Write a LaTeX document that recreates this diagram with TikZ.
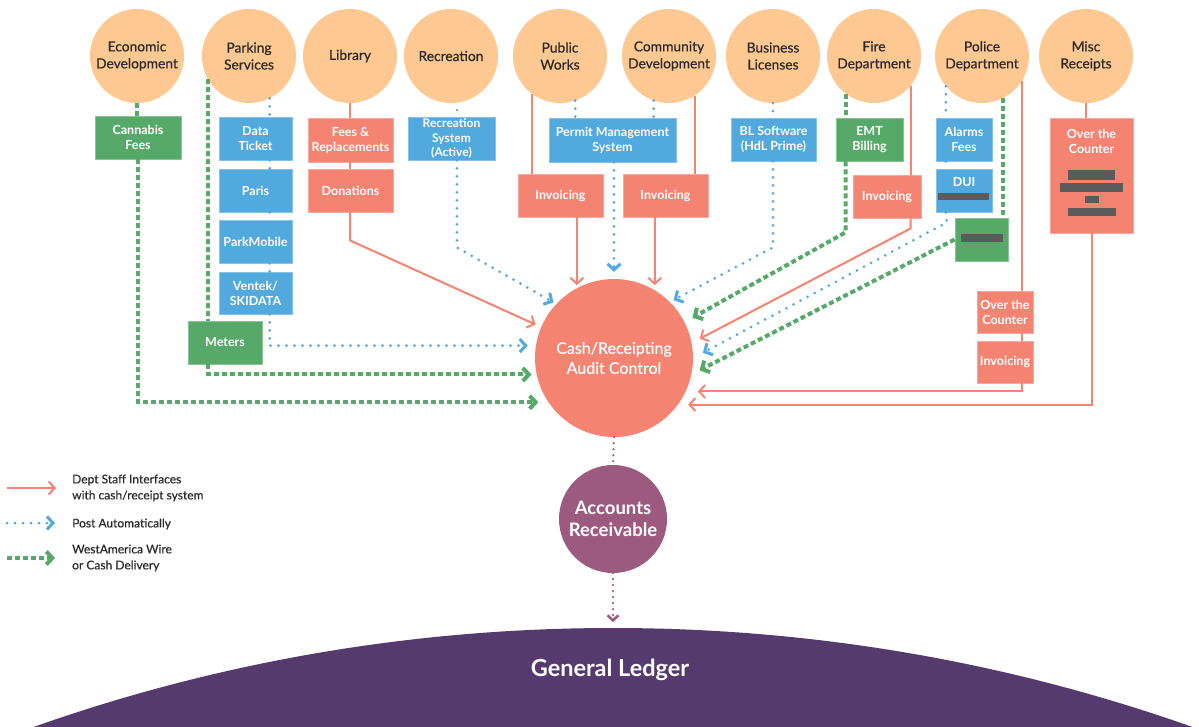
\documentclass[tikz,border=0pt]{standalone}
\usepackage{fontspec}
\setmainfont{Lato}
\newfontfamily\semib{Lato}[FakeBold=0.5]
\usetikzlibrary{arrows.meta,calc}
\definecolor{peach}{HTML}{FDC892}
\definecolor{salmon}{HTML}{F48372}
\definecolor{sky}{HTML}{52A9DE}
\definecolor{leaf}{HTML}{56A968}
\definecolor{mauve}{HTML}{9C5A7E}
\definecolor{plum}{HTML}{553A6E}
\definecolor{redact}{HTML}{5B5B5B}
\definecolor{ink}{HTML}{2A2A2A}

\begin{document}
\begin{tikzpicture}[x=1pt,y=-1pt,
  dept/.style={circle, fill=peach, minimum size=94pt, inner sep=0pt, align=center,
    text=ink, font=\semib\fontsize{13.8}{17}\selectfont},
  box/.style={rectangle, inner sep=0pt, align=center, text=white,
    font=\bfseries\fontsize{12.5}{15}\selectfont, fill=#1, draw=#1!70!white, line width=0.8pt},
  boxtext/.style={inner sep=0pt, align=center, text=white,
    font=\bfseries\fontsize{12.5}{15}\selectfont},
  staffline/.style={draw=salmon, line width=2pt},
  postline/.style={draw=sky, line width=3pt, line cap=round, dash pattern=on 0pt off 8pt},
  wireline/.style={draw=leaf, line width=4pt, dash pattern=on 5pt off 3pt},
  mauveline/.style={draw=mauve, line width=2.5pt, line cap=round, dash pattern=on 0pt off 6pt},
  chev/.style={-{Straight Barb[length=6pt,width=13pt]}},
  smallchev/.style={-{Straight Barb[length=5pt,width=11pt]}},
  legendtext/.style={anchor=west, align=left, inner sep=0pt, text=ink,
    font=\semib\fontsize{12}{16}\selectfont}
]
\useasboundingbox (0,0) rectangle (1199,727);

% General Ledger dome
\begin{scope}
  \clip (0,0) rectangle (1199,727);
  \fill[plum] (613,2365) circle (1737pt);
\end{scope}
\node[text=white, font=\bfseries\fontsize{23.5}{26}\selectfont] (gl) at (610,670) {General Ledger};
\coordinate (gltop) at (613,628);

% departments
\node[dept] (ed)   at (137,56)  {Economic\\Development};
\node[dept] (pk)   at (249,56)  {Parking\\Services};
\node[dept] (lib)  at (350,56)  {Library};
\node[dept] (rec)  at (451,56)  {Recreation};
\node[dept] (pw)   at (560,56)  {Public\\Works};
\node[dept] (cd)   at (669,56)  {Community\\Development};
\node[dept] (bus)  at (773,56)  {Business\\Licenses};
\node[dept] (fire) at (874,56)  {Fire\\Department};
\node[dept] (pol)  at (982,56)  {Police\\Department};
\node[dept] (misc) at (1086,56) {Misc\\Receipts};

% central circles
\node[circle, fill=salmon, minimum size=158pt, inner sep=0pt, align=center, text=white,
  font=\semib\fontsize{16}{20}\selectfont] (cash) at (614,358) {Cash/Receipting\\Audit Control};
\node[circle, fill=mauve, minimum size=108pt, inner sep=0pt, align=center, text=white,
  font=\bfseries\fontsize{18.5}{22}\selectfont] (ar) at (613,519) {Accounts\\Receivable};

% systems and sources
\node[box=leaf, minimum width=86pt, minimum height=43pt] (cf) at (138,137.5) {Cannabis\\Fees};
\node[box=sky, minimum width=73pt, minimum height=43pt] (dt) at (255.5,138.5) {Data\\Ticket};
\node[box=sky, minimum width=73pt, minimum height=43pt] (pa) at (255.5,190.5) {Paris};
\node[box=sky, minimum width=73pt, minimum height=43pt] (pm) at (255.5,241.5) {ParkMobile};
\node[box=sky, minimum width=73pt, minimum height=42pt] (ve) at (255.5,293) {Ventek/\\SKIDATA};
\node[box=leaf, minimum width=74pt, minimum height=43pt] (me) at (225,342.5) {Meters};
\node[box=salmon, minimum width=85pt, minimum height=44pt] (fr) at (350.5,140) {Fees \&\\Replacements};
\node[box=salmon, minimum width=85pt, minimum height=43pt] (do) at (350.5,190.5) {Donations};
\node[box=sky, minimum width=87pt, minimum height=43pt,
  font=\bfseries\fontsize{12}{14.5}\selectfont] (rs) at (451.5,138.5) {Recreation\\System\\(Active)};
\node[box=sky, minimum width=127pt, minimum height=44pt] (pms) at (612.5,140) {Permit Management\\System};
\node[box=salmon, minimum width=85pt, minimum height=43pt] (inv1) at (560.5,195.5) {Invoicing};
\node[box=salmon, minimum width=85pt, minimum height=43pt] (inv2) at (665.5,195.5) {Invoicing};
\node[box=sky, minimum width=85pt, minimum height=43pt] (bl) at (773.5,139.5) {BL Software\\(HdL Prime)};
\node[box=leaf, minimum width=67pt, minimum height=43pt] (emt) at (869.5,139.5) {EMT\\Billing};
\node[box=salmon, minimum width=68pt, minimum height=43pt] (inv3) at (887,196.5) {Invoicing};
\node[box=sky, minimum width=56pt, minimum height=43pt] (al) at (964,139.5) {Alarms\\Fees};
\node[box=sky, minimum width=56pt, minimum height=43pt] (dui) at (964,190.5) {};
\node[boxtext] (duitext) at (964,182) {DUI};
\fill[redact] (938,193) rectangle (989,200);
\node[box=leaf, minimum width=53pt, minimum height=43pt] (gb) at (981.5,239.5) {};
\fill[redact] (961,234) rectangle (1003,242);
\node[box=salmon, minimum width=83pt, minimum height=115pt] (otc1) at (1091.5,175.5) {};
\node[boxtext] (otc1text) at (1091.5,141) {Over the\\Counter};
\fill[redact] (1068,170) rectangle (1115,180);
\fill[redact] (1060,183) rectangle (1123,192);
\fill[redact] (1085,196) rectangle (1099,203);
\fill[redact] (1068,208) rectangle (1116,216);
\node[box=salmon, minimum width=56pt, minimum height=42pt] (otc2) at (1005,312) {Over the\\Counter};
\node[box=salmon, minimum width=56pt, minimum height=42pt] (inv4) at (1005,362) {Invoicing};

% Economic Development
\draw[wireline] (ed.south) -- (ed.south |- cf.north);
\draw[wireline, chev, shorten >=10pt] (cf.south) |- (cash.214);

% Parking Services
\draw[wireline] (pk.209) -- (pk.209 |- me.north);
\draw[wireline, chev, shorten >=5pt] (pk.209 |- me.south) |- (cash.192);
\draw[postline] (pk.296) -- (pk.296 |- dt.north);
\draw[postline] (pk.296 |- dt.south) -- (pk.296 |- pa.north);
\draw[postline] (pk.296 |- pa.south) -- (pk.296 |- pm.north);
\draw[postline] (pk.296 |- pm.south) -- (pk.296 |- ve.north);
\draw[postline, chev, shorten >=8pt] (pk.296 |- ve.south) |- (cash.171);

% Library
\draw[staffline] (lib.south) -- (lib.south |- fr.north);
\draw[staffline] (lib.south |- fr.south) -- (lib.south |- do.north);
\draw[staffline, chev, shorten >=6pt] (lib.south |- do.south) -- ++(0,28) -- (cash.157);

% Recreation
\draw[draw=leaf, line width=2.5pt, line cap=round, dash pattern=on 0pt off 20pt]
  ($(rec.south)+(6,7)$) -- ($(rec.south |- rs.north)+(6,0)$);
\draw[postline, chev, shorten >=3pt] ([xshift=5.5pt]rs.south) -- ++(0,87) -- (cash.137);

% Public Works and Community Development
\draw[staffline] (pw.233) -- (pw.233 |- inv1.north);
\draw[postline] (pw.289) -- (pw.289 |- pms.north);
\draw[postline] (cd.251) -- (cd.251 |- pms.north);
\draw[staffline] (cd.303) -- (cd.303 |- inv2.north);
\draw[postline, chev, shorten >=7pt] (cash.north |- pms.south) -- (cash.north);
\draw[staffline, chev, shorten >=3pt] (cash.118 |- inv1.south) -- (cash.118);
\draw[staffline, chev, shorten >=5pt] (cash.59 |- inv2.south) -- (cash.59);

% Business Licenses
\draw[postline] (bus.south) -- (bus.south |- bl.north);
\draw[postline, chev, shorten >=4pt] (bus.south |- bl.south) -- ++(0,86) -- (cash.45);

% Fire Department
\draw[wireline] (fire.233) -- (fire.233 |- emt.north);
\draw[wireline, chev, shorten >=9pt] (fire.233 |- emt.south) -- ++(0,71) -- (cash.27);
\draw[staffline] (fire.321) -- (fire.321 |- inv3.north);
\draw[staffline, chev, shorten >=9pt] (fire.321 |- inv3.south) -- ++(0,10) -- (cash.11);

% Police Department
\draw[postline] (pol.220) -- (pol.220 |- al.north);
\draw[postline] (pol.220 |- al.south) -- (pol.220 |- dui.north);
\draw[postline, chev, shorten >=11pt] (pol.220 |- dui.south) -- ++(1,10) -- (cash.0);
\draw[wireline] (pol.297) -- (pol.297 |- gb.north);
\draw[wireline, chev, shorten >=9pt] (gb.west) -- (cash.348);
\draw[staffline] (pol.328) -- (pol.328 |- otc2.north);
\draw[staffline] (pol.328 |- otc2.south) -- (pol.328 |- inv4.north);
\draw[staffline, chev, shorten >=12pt] (pol.328 |- inv4.south) |- (cash.335);

% Misc Receipts
\draw[staffline] (misc.south) -- (misc.south |- otc1.north);
\draw[staffline, chev, shorten >=10pt] (otc1.south) |- (cash.324);

% down to the ledger
\draw[mauveline] (cash.south) -- (ar.north);
\draw[mauveline, smallchev, shorten >=6pt] (ar.south) -- (gltop);

% legend
\coordinate (l1a) at (7,488);  \coordinate (l1b) at (56,488);
\coordinate (l2a) at (7,523);  \coordinate (l2b) at (55,523);
\coordinate (l3a) at (7,558);  \coordinate (l3b) at (55,558);
\draw[staffline, chev] (l1a) -- (l1b);
\draw[postline, chev] (l2a) -- (l2b);
\draw[wireline, chev] (l3a) -- (l3b);
\node[legendtext] (lt1) at (72,488) {Dept Staff Interfaces\\with cash/receipt system};
\node[legendtext] (lt2) at (72,524) {Post Automatically};
\node[legendtext] (lt3) at (72,558) {WestAmerica Wire\\or Cash Delivery};
\end{tikzpicture}
\end{document}
